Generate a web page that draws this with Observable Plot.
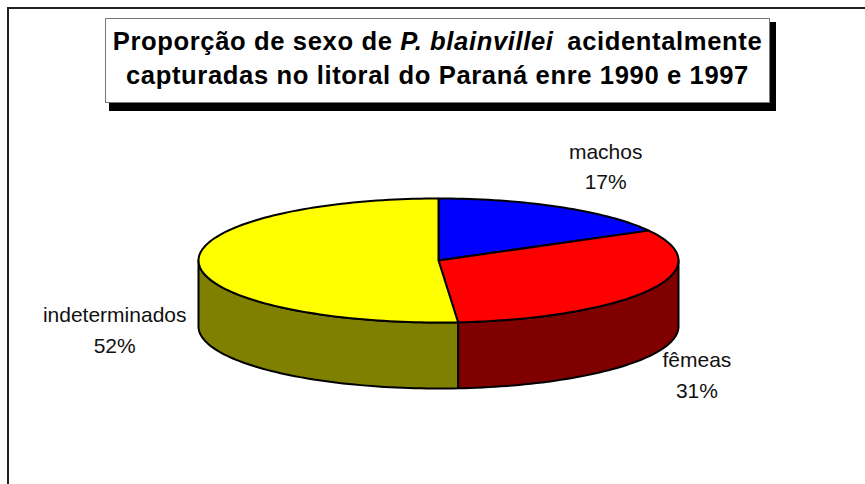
<!DOCTYPE html>
<html>
<head>
<meta charset="utf-8">
<script src="https://cdn.jsdelivr.net/npm/d3@7"></script>
<script src="https://cdn.jsdelivr.net/npm/@observablehq/plot@0.6"></script>
<style>
  html, body { margin: 0; padding: 0; background: #fff; }
  #chart { position: relative; width: 865px; height: 484px; overflow: hidden; font-family: "Liberation Sans", Arial, sans-serif; }
  #chart svg { display: block; position: absolute; left: 0; top: 0; }
  #frame { position: absolute; left: 7px; top: 7px; right: -4px; bottom: -4px; border-left: 2px solid #222; border-top: 2px solid #222; }
  #shadow { position: absolute; left: 109px; top: 22px; width: 667px; height: 89px; background: #000; }
  #title { position: absolute; left: 105px; top: 18px; width: 663px; height: 78px; box-sizing: content-box;
    background: #fff; border: 1px solid #777; text-align: center;
    font-weight: bold; font-size: 25.6px; line-height: 34px; color: #000; padding-top: 5px; white-space: nowrap; letter-spacing: 0.62px; }
  #title i { margin-right: 6px; }
</style>
</head>
<body>
<div id="chart">
  <div id="frame"></div>
  <div id="shadow"></div>
  <div id="title">Proporção de sexo de <i>P. blainvillei</i> acidentalmente<br>capturadas no litoral do Paraná enre 1990 e 1997</div>
</div>
<script>
const categories = ["machos", "fêmeas", "indeterminados"];
const printedLabels = ["17%", "31%", "52%"];
const sliceShares = [17, 31.7, 51.3];

// Styles and layout, kept apart from the data
const topColors = ["#0000ff", "#ff0000", "#ffff00"];
const wallColors = ["#000080", "#800000", "#808000"];
const labelOffsets = [[45, -43], [47, 83], [-84, 64.5]];
const wallDepth = 66 / 62;

const total = d3.sum(sliceShares);
const cumulative = d3.cumsum(sliceShares);
const slices = categories.map((name, i) => ({
  name,
  label: printedLabels[i],
  start: ((i ? cumulative[i - 1] : 0) / total) * 360,
  end: (cumulative[i] / total) * 360,
  top: topColors[i],
  wall: wallColors[i],
  offset: labelOffsets[i]
}));

const rim = (deg, drop = 0) => {
  const a = (deg * Math.PI) / 180;
  return { x: Math.sin(a), y: Math.cos(a) - drop };
};
const arc = (a0, a1, drop = 0) => {
  const n = Math.max(2, Math.ceil(Math.abs(a1 - a0) / 1.5));
  return d3.range(n + 1).map((k) => rim(a0 + ((a1 - a0) * k) / n, drop));
};

const line = { x: "x", y: "y", stroke: "#000", strokeWidth: 2, curve: "linear-closed", strokeLinejoin: "round" };
const walls = slices.flatMap((s) => {
  const a0 = Math.max(s.start, 90), a1 = Math.min(s.end, 270);
  if (a1 <= a0) return [];
  return [Plot.line([...arc(a0, a1), ...arc(a1, a0, wallDepth)], { ...line, fill: s.wall })];
});
const tops = slices.map((s) =>
  Plot.line([{ x: 0, y: 0 }, ...arc(s.start, s.end)], { ...line, fill: s.top })
);
const labels = slices.map((s) => {
  const p = rim((s.start + s.end) / 2);
  return Plot.text([p], {
    x: "x", y: "y", text: () => `${s.name}\n${s.label}`,
    dx: s.offset[0], dy: s.offset[1],
    fontSize: 21, lineHeight: 1.45, fill: "#111", textAnchor: "middle"
  });
});

const plot = Plot.plot({
  width: 865,
  height: 484,
  margin: 0,
  style: { background: "transparent", fontFamily: "'Liberation Sans', Arial, sans-serif" },
  x: { domain: [-1, 1], range: [198, 678], axis: null },
  y: { domain: [1, -1], range: [198, 322], axis: null },
  marks: [...walls, ...tops, ...labels]
});
const chart = document.getElementById("chart");
chart.insertBefore(plot, document.getElementById("shadow"));
</script>
</body>
</html>
